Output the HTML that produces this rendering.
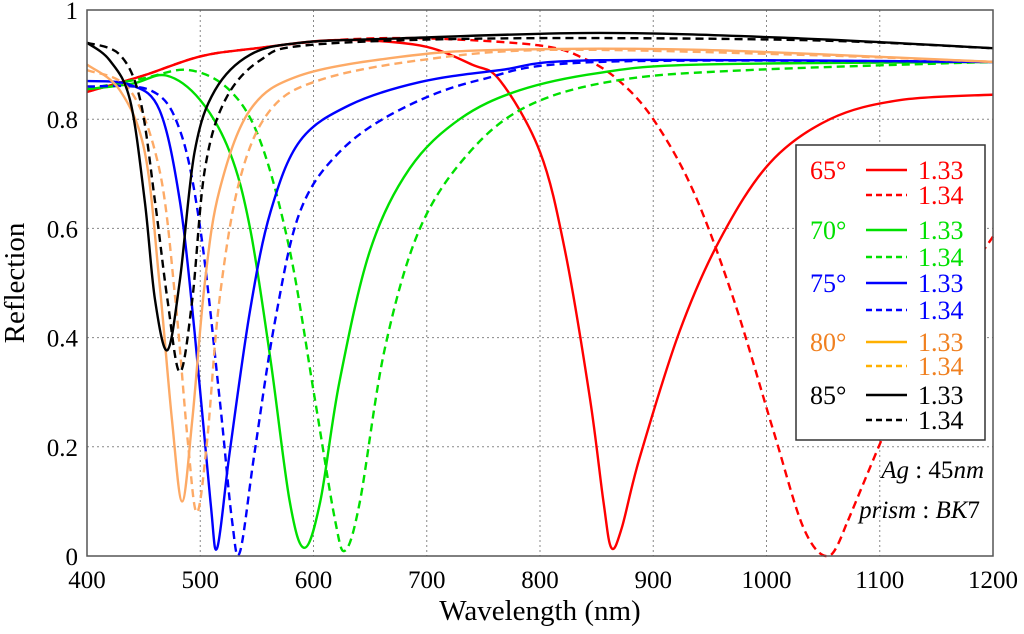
<!DOCTYPE html>
<html><head><meta charset="utf-8"><style>
body{margin:0;background:#fff}
svg{display:block}
text{font-family:"Liberation Serif","DejaVu Serif",serif}
</style></head><body>
<svg id="chart" width="1024" height="634" viewBox="0 0 1024 634" font-family="Liberation Serif, DejaVu Serif, serif">
<g id="grid"></g>
<g id="curves"></g>
<rect x="87" y="10" width="906" height="546" fill="none" stroke="#555" stroke-width="1.5"/>
<g id="ticks"></g>
<text transform="translate(24,283) rotate(-90)" text-anchor="middle" font-size="29">Reflection</text>
<text x="540" y="620" text-anchor="middle" font-size="29">Wavelength (nm)</text>
<g id="legend"></g>
<text x="984" y="478" text-anchor="end" font-size="25"><tspan font-style="italic">Ag</tspan> : 45<tspan font-style="italic">nm</tspan></text>
<text x="980" y="518" text-anchor="end" font-size="25"><tspan font-style="italic">prism</tspan> : <tspan font-style="italic">BK</tspan>7</text>
</svg>
<script>
const xTicks=[400,500,600,700,800,900,1000,1100,1200];
const yTicks=[0,0.2,0.4,0.6,0.8,1];
const yTickLabels=["0","0.2","0.4","0.6","0.8","1"];
const r65a=[[400,0.85],[450,0.88],[500,0.915],[550,0.93],[620,0.945],[694,0.935],[740,0.9],[765,0.87],[800,0.74],[822,0.56],[844,0.29],[856,0.1],[863,0.015],[872,0.05],[888,0.18],[923,0.41],[959,0.58],[1003,0.72],[1056,0.80],[1118,0.835],[1200,0.845]];
const r65b=[[400,0.85],[450,0.88],[500,0.915],[550,0.93],[620,0.945],[700,0.948],[800,0.935],[840,0.91],[870,0.87],[900,0.8],[935,0.67],[971,0.47],[1006,0.23],[1033,0.05],[1055,0.0],[1072,0.065]];
const r65c=[[1072,0.065],[1120,0.3],[1160,0.46],[1200,0.585]];
const g70a=[[400,0.855],[440,0.865],[470,0.88],[500,0.835],[526,0.74],[544,0.6],[562,0.36],[579,0.1],[592,0.015],[606,0.1],[623,0.32],[650,0.56],[685,0.71],[729,0.8],[782,0.853],[853,0.885],[941,0.9],[1200,0.905]];
const g70b=[[400,0.855],[450,0.875],[490,0.89],[526,0.853],[553,0.76],[579,0.56],[601,0.29],[619,0.066],[628,0.01],[641,0.1],[663,0.38],[694,0.6],[738,0.74],[791,0.826],[871,0.872],[985,0.89],[1200,0.905]];
const b75a=[[400,0.87],[438,0.863],[464,0.817],[482,0.65],[495,0.41],[509,0.1],[515,0.015],[526,0.19],[544,0.45],[562,0.63],[588,0.76],[632,0.826],[694,0.868],[765,0.89],[853,0.908],[1200,0.905]];
const b75b=[[400,0.86],[456,0.853],[482,0.78],[500,0.6],[517,0.29],[528,0.066],[535,0.007],[548,0.19],[566,0.43],[588,0.63],[623,0.74],[676,0.817],[747,0.872],[853,0.905],[1200,0.905]];
const o80a=[[400,0.9],[429,0.853],[451,0.74],[464,0.5],[475,0.25],[484,0.1],[493,0.25],[504,0.5],[517,0.67],[544,0.817],[588,0.88],[676,0.914],[765,0.927],[941,0.927],[1200,0.905]];
const o80b=[[400,0.89],[438,0.853],[464,0.707],[478,0.47],[489,0.21],[497,0.08],[506,0.21],[517,0.47],[535,0.69],[562,0.817],[606,0.872],[694,0.908],[809,0.927],[1030,0.918],[1200,0.905]];
const k85a=[[400,0.94],[420,0.908],[438,0.835],[451,0.65],[460,0.47],[471,0.377],[482,0.505],[495,0.74],[513,0.853],[544,0.918],[588,0.94],[676,0.948],[853,0.958],[1030,0.948],[1200,0.93]];
const k85b=[[400,0.94],[429,0.918],[447,0.835],[460,0.65],[471,0.47],[482,0.337],[493,0.47],[504,0.707],[522,0.835],[553,0.908],[597,0.936],[765,0.948],[1030,0.945],[1200,0.93]];
const legendAngles=["65°","70°","75°","80°","85°"];
const legendIdx=["1.33","1.34"];

const NS="http://www.w3.org/2000/svg";
const X=v=>87+(v-400)*906/800;
const Y=v=>556-v*546;
function mk(t,a,p){const e=document.createElementNS(NS,t);for(const k in a)e.setAttribute(k,a[k]);p.appendChild(e);return e;}
const grid=document.getElementById('grid'),ticks=document.getElementById('ticks');
xTicks.forEach(v=>{
 const l=mk('line',{x1:X(v),x2:X(v),y1:10,y2:556,stroke:'#888','stroke-dasharray':'2,3'},grid);
 
 
 const t=mk('text',{x:X(v),y:588,'text-anchor':'middle','font-size':25},ticks);t.textContent=v;
 
 
});
yTicks.forEach((v,i)=>{
 const l=mk('line',{x1:87,x2:993,y1:Y(v),y2:Y(v),stroke:'#888','stroke-dasharray':'2,3'},grid);
 
 
 const t=mk('text',{x:78,y:Y(v)+9,'text-anchor':'end','font-size':25},ticks);t.textContent=yTickLabels[i];
 
 
});
const cur=document.getElementById('curves');
const series=[[r65a,'#ff0000',0,'curve-65-133'],[r65b,'#ff0000',1,'curve-65-134'],[r65c,'#ff0000',1,'curve-65-134-tail'],
[g70a,'#00e000',0,'curve-70-133'],[g70b,'#00e000',1,'curve-70-134'],
[b75a,'#0000ff',0,'curve-75-133'],[b75b,'#0000ff',1,'curve-75-134'],
[o80a,'#fdaa66',0,'curve-80-133'],[o80b,'#fdaa66',1,'curve-80-134'],
[k85a,'#000000',0,'curve-85-133'],[k85b,'#000000',1,'curve-85-134']];
function smooth(pts){
 const p=pts.map(d=>[X(d[0]),Y(d[1])]);let s='M'+p[0][0]+','+p[0][1];
 for(let i=0;i<p.length-1;i++){const p0=p[i-1]||p[i],p1=p[i],p2=p[i+1],p3=p[i+2]||p2;
  s+=` C${p1[0]+(p2[0]-p0[0])/6},${p1[1]+(p2[1]-p0[1])/6} ${p2[0]-(p3[0]-p1[0])/6},${p2[1]-(p3[1]-p1[1])/6} ${p2[0]},${p2[1]}`;}
 return s;}
series.forEach(s=>{
 const e=mk('path',{d:smooth(s[0]),fill:'none',stroke:s[1],'stroke-width':2.4},cur);
 if(s[2])e.setAttribute('stroke-dasharray','8,5');
 
 
});
const lg=document.getElementById('legend');
mk('rect',{x:796,y:145,width:189,height:295,fill:'#fff',stroke:'#333','stroke-width':1.5},lg);
const lineCols=['#ff0000','#00e000','#0000ff','#ffb000','#000000'];
const txtCols=['#ff0000','#00e000','#0000ff','#f08020','#000000'];
const rowY=[[170,195],[230,257],[283,310],[342,366],[395,420]];
legendAngles.forEach((a,i)=>{
 const t=mk('text',{x:810,y:rowY[i][0]+9,fill:txtCols[i],'font-size':26},lg);t.textContent=a;
 
 
 legendIdx.forEach((n,j)=>{
  const l=mk('line',{x1:866,x2:907,y1:rowY[i][j],y2:rowY[i][j],stroke:lineCols[i],'stroke-width':2.4},lg);
  if(j)l.setAttribute('stroke-dasharray','6,4');
  
  
  const tt=mk('text',{x:918,y:rowY[i][j]+9,fill:txtCols[i],'font-size':26},lg);tt.textContent=n;
  
  
 });
});
</script>
</body></html>
